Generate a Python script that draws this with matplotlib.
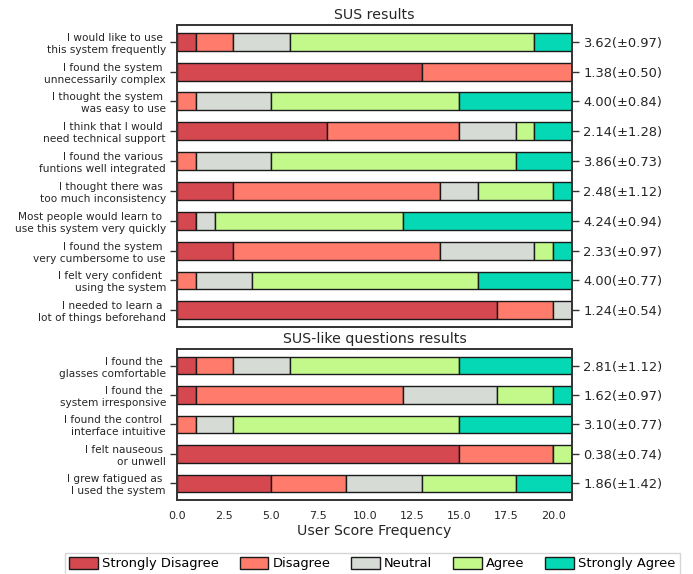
import matplotlib
matplotlib.use('Agg')
import matplotlib.pyplot as plt
import numpy as np

# Answer counts per question (21 participants), columns:
# Strongly Disagree, Disagree, Neutral, Agree, Strongly Agree
answers = ['Strongly Disagree', 'Disagree', 'Neutral', 'Agree', 'Strongly Agree']
colors = ['#d5484f', '#ff7b6c', '#d6dbd5', '#c3f98a', '#05d8b4']

sus_questions = ['I would like to use \nthis system frequently',
                 'I found the system \nunnecessarily complex',
                 'I thought the system \nwas easy to use',
                 'I think that I would \nneed technical support',
                 'I found the various \nfuntions well integrated',
                 'I thought there was \ntoo much inconsistency',
                 'Most people would learn to \nuse this system very quickly',
                 'I found the system \nvery cumbersome to use',
                 'I felt very confident \nusing the system',
                 'I needed to learn a \nlot of things beforehand']
sus_counts = [[1, 2, 3, 13, 2],
              [13, 8, 0, 0, 0],
              [0, 1, 4, 10, 6],
              [8, 7, 3, 1, 2],
              [0, 1, 4, 13, 3],
              [3, 11, 2, 4, 1],
              [1, 0, 1, 10, 9],
              [3, 11, 5, 1, 1],
              [0, 1, 3, 12, 5],
              [17, 3, 1, 0, 0]]

like_questions = ['I found the \nglasses comfortable',
                  'I found the \nsystem irresponsive',
                  'I found the control \ninterface intuitive',
                  'I felt nauseous \nor unwell',
                  'I grew fatigued as \nI used the system']
like_counts = [[1, 2, 3, 9, 6],
               [1, 11, 5, 3, 1],
               [0, 1, 2, 12, 6],
               [15, 5, 0, 1, 0],
               [5, 4, 4, 5, 3]]


def stats_labels(counts, scores):
    labels = []
    for row in counts:
        values = np.repeat(scores, row)
        labels.append('%.2f(±%.2f)' % (values.mean(), values.std(ddof=1)))
    return labels


def stacked_barh(ax, questions, counts, scores, title):
    counts = np.array(counts)
    n = len(questions)
    y = np.arange(n)
    left = np.zeros(n)
    for k in range(len(answers)):
        ax.barh(y, counts[:, k], left=left, height=0.6, color=colors[k],
                edgecolor='#1a1a1a', linewidth=1.0, label=answers[k])
        left += counts[:, k]
    ax.set_xlim(0, 21)
    ax.set_ylim(n - 1 + 0.56, -0.56)
    ax.set_yticks(y)
    ax.set_yticklabels(questions, fontsize=7.6, color='#262626', linespacing=1.25)
    ax.set_title(title, fontsize=10.2, color='#262626', pad=4)

    # mean and standard deviation on the right side
    twin = ax.twinx()
    twin.set_ylim(ax.get_ylim())
    twin.set_yticks(y)
    twin.set_yticklabels(stats_labels(counts, scores), fontsize=9.4, color='#262626')
    for a in (ax, twin):
        a.tick_params(axis='y', length=5, width=1, color='#333333', pad=3)
        for sp in a.spines.values():
            sp.set_color('#333333')
            sp.set_linewidth(1.2)
    ax.tick_params(axis='x', length=0, labelsize=8, colors='#262626', pad=8)
    return ax


fig = plt.figure(figsize=(6.93, 5.74), dpi=100)
ax1 = fig.add_axes([0.2554, 0.4303, 0.57, 0.5261])
ax2 = fig.add_axes([0.2554, 0.129, 0.57, 0.263])

stacked_barh(ax1, sus_questions, sus_counts, np.arange(1, 6), 'SUS results')
stacked_barh(ax2, like_questions, like_counts, np.arange(0, 5), 'SUS-like questions results')
ax1.set_xticklabels([])
ax2.set_xlabel('User Score Frequency', fontsize=10.2, color='#262626', labelpad=2)

handles, labels = ax2.get_legend_handles_labels()
fig.legend(handles, labels, loc='upper center', bbox_to_anchor=(0.537, 0.042),
           ncol=5, fontsize=9.4, frameon=True, fancybox=False, edgecolor='#cccccc',
           handlelength=2.2, handleheight=1.0, handletextpad=0.3, columnspacing=1.6,
           borderaxespad=0.2, borderpad=0.35)

fig.savefig('out.png', dpi=100)
